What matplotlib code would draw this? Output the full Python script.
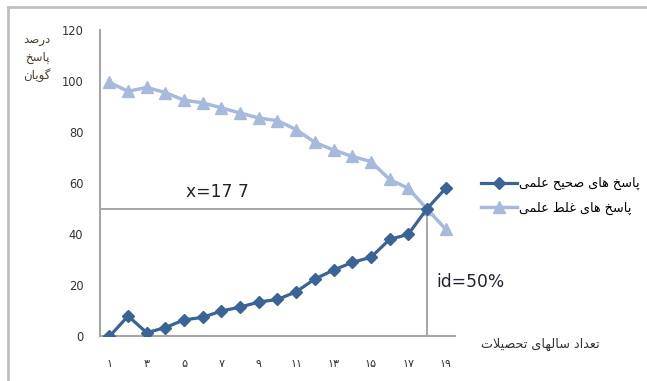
import matplotlib
matplotlib.use('Agg')
import matplotlib.pyplot as plt
from matplotlib.lines import Line2D

# سالهای تحصیلات و درصد پاسخ ها
years = list(range(1, 20))
correct = [0, 8, 1.5, 3.5, 6.5, 7.5, 10, 11.5, 13.5, 14.5, 17.5, 22.5, 26, 29, 31, 38, 40, 50, 58]
wrong = [99.5, 96, 97.5, 95.5, 92.5, 91.5, 89.5, 87.5, 85.5, 84.5, 81, 76, 73, 70.5, 68.5, 61.5, 58, 50, 42]
tick_years = years[::2]
tick_labels = ['۱', '۳', '۵', '۷', '۹', '۱۱', '۱۳', '۱۵', '۱۷', '۱۹']
y_ticks = [0, 20, 40, 60, 80, 100, 120]

cross_x = 18
cross_y = 50
cross_label = 'x=17 7'
id_label = 'id=50%'

label_correct = 'پاسخ های صحیح علمی'
label_wrong = 'پاسخ های غلط علمی'
x_title = 'تعداد سالهای تحصیلات'
y_title = ['درصد', 'پاسخ', 'گویان']

# شکل های حروف: مجزا، پایانی، آغازی، میانی
FORMS = {
    'ا': (0xFE8D, 0xFE8E), 'د': (0xFEA9, 0xFEAA), 'ر': (0xFEAD, 0xFEAE),
    'و': (0xFEED, 0xFEEE), '\uFEFB': (0xFEFB, 0xFEFC),
    'ب': (0xFE8F, 0xFE90, 0xFE91, 0xFE92), 'پ': (0xFB56, 0xFB57, 0xFB58, 0xFB59),
    'ت': (0xFE95, 0xFE96, 0xFE97, 0xFE98), 'ح': (0xFEA1, 0xFEA2, 0xFEA3, 0xFEA4),
    'خ': (0xFEA5, 0xFEA6, 0xFEA7, 0xFEA8), 'س': (0xFEB1, 0xFEB2, 0xFEB3, 0xFEB4),
    'ص': (0xFEB9, 0xFEBA, 0xFEBB, 0xFEBC), 'ط': (0xFEC1, 0xFEC2, 0xFEC3, 0xFEC4),
    'ع': (0xFEC9, 0xFECA, 0xFECB, 0xFECC), 'غ': (0xFECD, 0xFECE, 0xFECF, 0xFED0),
    'گ': (0xFB92, 0xFB93, 0xFB94, 0xFB95), 'ل': (0xFEDD, 0xFEDE, 0xFEDF, 0xFEE0),
    'م': (0xFEE1, 0xFEE2, 0xFEE3, 0xFEE4), 'ن': (0xFEE5, 0xFEE6, 0xFEE7, 0xFEE8),
    'ه': (0xFEE9, 0xFEEA, 0xFEEB, 0xFEEC), 'ی': (0xFBFC, 0xFBFD, 0xFBFE, 0xFBFF),
}


def farsi(text):
    # اتصال حروف و راست به چپ کردن متن برای matplotlib
    text = text.replace('لا', '\uFEFB')
    out = []
    for i, ch in enumerate(text):
        forms = FORMS.get(ch)
        if forms is None:
            out.append(ch)
            continue
        prev = text[i - 1] if i > 0 else ''
        nxt = text[i + 1] if i + 1 < len(text) else ''
        join_prev = prev in FORMS and len(FORMS[prev]) == 4
        join_next = len(forms) == 4 and nxt in FORMS
        if join_prev and join_next:
            g = forms[3]
        elif join_prev:
            g = forms[1]
        elif join_next:
            g = forms[2]
        else:
            g = forms[0]
        out.append(chr(g))
    return ''.join(reversed(out))


dark = '#3A6396'
light = '#A7BADC'
grey = '#A6A6A6'

fig = plt.figure(figsize=(6.47, 3.81), dpi=100)
ax = fig.add_axes([0.1546, 0.1168, 0.5486, 0.8045])

# خطوط راهنمای نقطه تقاطع
ax.plot([0.5, cross_x], [cross_y, cross_y], color=grey, lw=1.4, zorder=1)
ax.plot([cross_x, cross_x], [0, cross_y], color=grey, lw=1.4, zorder=1)

ax.plot(years, correct, color=dark, lw=2.3, marker='D', markersize=6.5,
        label=farsi(label_correct), zorder=3)
ax.plot(years, wrong, color=light, lw=2.5, marker='^', markersize=8.5,
        label=farsi(label_wrong), zorder=2)

ax.set_xlim(0.5, 19.5)
ax.set_ylim(0, 120)
ax.set_xticks(tick_years)
ax.set_xticklabels(tick_labels, fontsize=8, color='#333333')
ax.set_yticks(y_ticks)
ax.set_yticklabels([str(v) for v in y_ticks], fontsize=8.3, color='#333333')
ax.tick_params(axis='x', length=0, pad=16)
ax.tick_params(axis='y', length=0, pad=12)
for side in ['top', 'right']:
    ax.spines[side].set_visible(False)
for side in ['left', 'bottom']:
    ax.spines[side].set_color(grey)
    ax.spines[side].set_linewidth(1.5)

ax.text(5.1, 54.5, cross_label, fontsize=12.3, color='#222233', va='baseline')
ax.text(18.5, 19.5, id_label, fontsize=12.3, color='#222233', va='baseline')

fig.legend(loc='center left', bbox_to_anchor=(481 / 647, 1 - 196 / 381),
           frameon=False, fontsize=9.2, handlelength=2.8, handletextpad=0.2,
           borderpad=0, borderaxespad=0, labelspacing=0.9)

fig.text(481 / 647, 1 - 344 / 381, farsi(x_title), fontsize=9.2,
         color='#333333', ha='left', va='center')
for i, word in enumerate(y_title):
    fig.text(50 / 647, 1 - (39 + i * 18) / 381, farsi(word), fontsize=8.5,
             color='#4A3E2A', ha='right', va='center')

# قاب بیرونی
fig.add_artist(Line2D([8 / 647, 1], [1 - 7 / 381, 1 - 7 / 381],
                      transform=fig.transFigure, color='#C0C0C0', lw=2))
fig.add_artist(Line2D([8 / 647, 8 / 647], [0, 1 - 7 / 381],
                      transform=fig.transFigure, color='#C0C0C0', lw=2))

fig.savefig('out.png', dpi=100)
